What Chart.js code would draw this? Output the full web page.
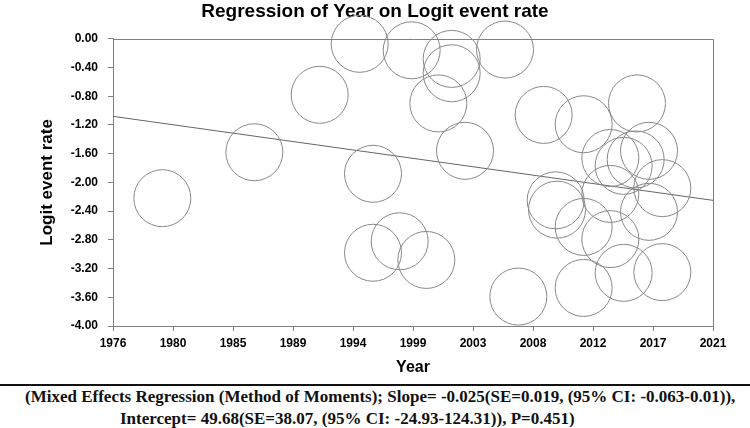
<!DOCTYPE html>
<html>
<head>
<meta charset="utf-8">
<script src="https://cdn.jsdelivr.net/npm/chart.js@4"></script>
<style>
    body { margin: 0; background: #fff; }
    #wrap { position: relative; width: 750px; height: 428px; overflow: hidden; }
    #chart { position: absolute; left: 0; top: 0; }
    .rule { position: absolute; left: 0; top: 384px; width: 750px; height: 2px; background: #111; }
    .note { position: absolute; white-space: nowrap; font: bold 17px "Liberation Serif", "Times New Roman", serif; line-height: 17px; color: #111; }
</style>
</head>
<body>
<div id="wrap">
    <canvas id="chart" width="750" height="383"></canvas>
    <div class="rule"></div>
    <div class="note" style="left:25px; top:388px">(Mixed Effects Regression (Method of Moments); Slope= -0.025(SE=0.019, (95% CI: -0.063-0.01)),</div>
    <div class="note" style="left:120px; top:410px">Intercept= 49.68(SE=38.07, (95% CI: -24.93-124.31)), P=0.451)</div>
</div>
<script>
// one circle per study
const years = [1979.7, 1986.6, 1991.5, 1994.5, 1995.5, 1995.5, 1997.5, 1998.4, 1999.5, 2000.4, 2001.4, 2001.4, 2002.4, 2005.4, 2006.4, 2008.3,
    2009.2, 2009.3, 2011.3, 2011.3, 2011.3, 2013.3, 2013.3, 2013.3, 2014.3, 2014.3, 2015.3, 2015.2, 2016.2, 2016.2, 2017.2, 2017.2]
const logitRates = [-2.22, -1.58, -0.78, -0.07, -1.88, -2.98, -2.82, -0.16, -3.08, -0.90, -0.28, -0.48, -1.56, -0.15, -3.59, -1.06,
    -2.25, -2.38, -1.19, -2.62, -3.47, -1.66, -2.16, -2.79, -1.77, -3.26, -0.90, -1.68, -1.56, -2.41, -2.08, -3.25]

// regression line end points
const lineYears = [1976, 2021]
const lineValues = [-1.08, -2.25]

const xTickLabels = ['1976', '1980', '1985', '1989', '1994', '1999', '2003', '2008', '2012', '2017', '2021']

const axisColor = '#808080'
const tickFont = { family: 'Liberation Sans', size: 12, weight: 'bold' }

// top and right border of the plot box
const frame = {
    id: 'frame',
    beforeDatasetsDraw(chart) {
        const { ctx, chartArea } = chart
        const t = Math.round(chartArea.top) + 0.5
        const r = Math.round(chartArea.right) + 0.5
        ctx.save()
        ctx.strokeStyle = axisColor
        ctx.lineWidth = 1
        ctx.beginPath()
        ctx.moveTo(chartArea.left, t)
        ctx.lineTo(r, t)
        ctx.lineTo(r, chartArea.bottom)
        ctx.stroke()
        ctx.restore()
    }
}

new Chart(document.getElementById('chart'), {
    type: 'scatter',
    data: {
        datasets: [{
            data: years.map((x, i) => ({ x: x, y: logitRates[i] })),
            pointRadius: 28.5,
            pointBackgroundColor: 'rgba(0,0,0,0)',
            pointBorderColor: '#888',
            pointBorderWidth: 1,
            clip: false
        }, {
            data: lineYears.map((x, i) => ({ x: x, y: lineValues[i] })),
            showLine: true,
            borderColor: '#666',
            borderWidth: 1,
            pointRadius: 0,
            clip: false
        }]
    },
    options: {
        responsive: false,
        animation: false,
        events: [],
        layout: { padding: { left: 37, right: 37, top: 0, bottom: 0 } },
        plugins: {
            legend: { display: false },
            tooltip: { enabled: false },
            title: {
                display: true,
                text: 'Regression of Year on Logit event rate',
                color: '#000',
                font: { family: 'Liberation Sans', size: 19, weight: 'bold' },
                padding: { top: 0, bottom: 16 }
            }
        },
        scales: {
            x: {
                type: 'linear',
                min: 1976,
                max: 2021,
                afterFit: s => { s.height = 57 },
                border: { color: axisColor },
                grid: { drawOnChartArea: false, tickLength: 5, color: axisColor },
                ticks: {
                    stepSize: 4.5,
                    autoSkip: false,
                    maxRotation: 0,
                    padding: 5,
                    color: '#000',
                    font: tickFont,
                    callback: (v, i) => xTickLabels[i]
                },
                title: {
                    display: true,
                    text: 'Year',
                    color: '#000',
                    font: { family: 'Liberation Sans', size: 16, weight: 'bold' },
                    padding: { top: 0, bottom: 6 }
                }
            },
            y: {
                min: -4,
                max: 0,
                afterFit: s => { s.width = 76 },
                border: { color: axisColor },
                grid: { drawOnChartArea: false, tickLength: 5, color: axisColor },
                ticks: {
                    stepSize: 0.4,
                    padding: 10,
                    color: '#000',
                    font: tickFont,
                    callback: v => v.toFixed(2)
                },
                title: {
                    display: true,
                    text: 'Logit event rate',
                    color: '#000',
                    font: { family: 'Liberation Sans', size: 17, weight: 'bold' },
                    padding: { top: 0, bottom: 0 }
                }
            }
        }
    },
    plugins: [frame]
})
</script>
</body>
</html>
